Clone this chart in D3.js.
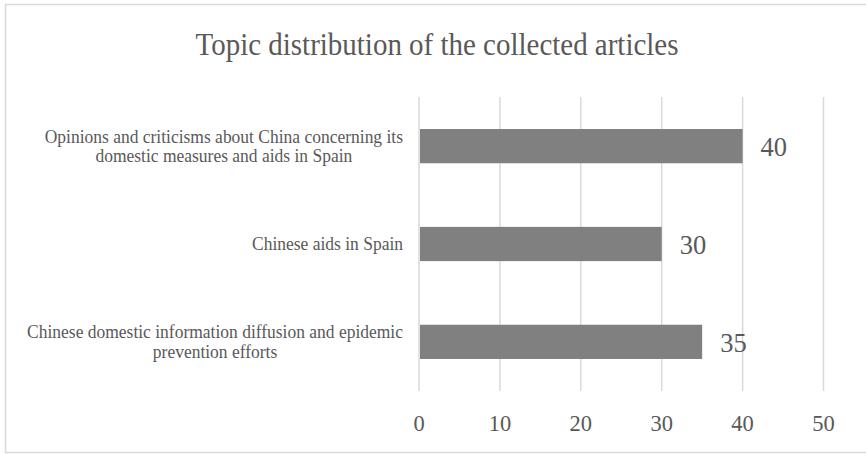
<!DOCTYPE html>
<html lang="en">
<head>
    <meta charset="UTF-8">
    <title>Topic distribution</title>
    <script src="https://cdn.jsdelivr.net/npm/d3@7"></script>
    <style>
        body { margin: 0; background: #FFFFFF; overflow: hidden; }
        text { font-family: "Liberation Serif", "Times New Roman", serif; fill: #595959; }
    </style>
</head>
<body>

    <div id="canvas"></div>

    <script>

        // data (top to bottom as drawn)
        const categories = [
            ['Opinions and criticisms about China concerning its', 'domestic measures and aids in Spain'],
            ['Chinese aids in Spain'],
            ['Chinese domestic information diffusion and epidemic', 'prevention efforts']
        ];
        const values = [40, 30, 35];
        const xTicks = [0, 10, 20, 30, 40, 50];
        const title = 'Topic distribution of the collected articles';

    </script>

    <script>

        const width = 866;
        const height = 454;
        const plotLeft = 419;
        const plotRight = 823.5;
        const plotTop = 97;
        const plotBottom = 391;

        const svg = d3.select('#canvas')
            .append('svg')
            .attr('width', width)
            .attr('height', height)
            .style('display', 'block');

        // background
        svg.append('rect')
            .attr('width', width)
            .attr('height', height)
            .attr('fill', '#FFFFFF');

        // chart border (right edge is cropped off in the source)
        svg.append('path')
            .attr('d', `M${width},4.5 H5.5 V452.5 H${width}`)
            .attr('fill', 'none')
            .attr('stroke', '#D9D9D9')
            .attr('stroke-width', 1.5);

        const x = d3.scaleLinear()
            .domain([0, 50])
            .range([plotLeft, plotRight]);

        const y = d3.scaleBand()
            .domain(d3.range(categories.length))
            .range([plotTop, plotBottom])
            .paddingInner(0.65)
            .paddingOuter(0.327);

        // title (slightly narrow glyphs like the source)
        svg.append('text')
            .attr('transform', 'translate(437,55) scale(0.92,1)')
            .attr('text-anchor', 'middle')
            .style('font-size', '31.5px')
            .text(title);

        // gridlines
        svg.append('g')
            .selectAll('line')
            .data(xTicks)
            .enter()
            .append('line')
            .attr('x1', d => x(d))
            .attr('x2', d => x(d))
            .attr('y1', plotTop)
            .attr('y2', plotBottom)
            .attr('stroke', '#D9D9D9')
            .attr('stroke-width', 1.5);

        // bars
        svg.append('g')
            .selectAll('rect')
            .data(values)
            .enter()
            .append('rect')
            .attr('x', x(0) + 1)
            .attr('y', (d, i) => y(i))
            .attr('width', d => x(d) - x(0) - 1)
            .attr('height', y.bandwidth())
            .attr('fill', '#808080');

        // value labels
        svg.append('g')
            .selectAll('text')
            .data(values)
            .enter()
            .append('text')
            .attr('x', d => x(d) + 18)
            .attr('y', (d, i) => y(i) + y.bandwidth() / 2 + 1)
            .attr('dominant-baseline', 'central')
            .style('font-size', '26.5px')
            .text(d => d);

        // x axis labels
        svg.append('g')
            .selectAll('text')
            .data(xTicks)
            .enter()
            .append('text')
            .attr('x', d => x(d))
            .attr('y', 431)
            .attr('text-anchor', 'middle')
            .style('font-size', '22.5px')
            .text(d => d);

        // category labels, lines centred within a right-aligned block
        const lineH = 19.5;
        const labelRight = 403;
        const squeeze = 0.94;

        categories.forEach((lines, i) => {
            const g = svg.append('g')
                .attr('transform', `translate(${labelRight},0) scale(${squeeze},1)`);
            const cy = y(i) + y.bandwidth() / 2;
            const texts = g.selectAll('text')
                .data(lines)
                .enter()
                .append('text')
                .attr('text-anchor', 'middle')
                .attr('dominant-baseline', 'central')
                .style('font-size', '18.6px')
                .attr('y', (d, j) => cy + (j - (lines.length - 1) / 2) * lineH)
                .text(d => d);
            let maxW = 0;
            texts.each(function () { maxW = Math.max(maxW, this.getComputedTextLength()); });
            texts.attr('x', -maxW / 2);
        });

    </script>

</body>
</html>
